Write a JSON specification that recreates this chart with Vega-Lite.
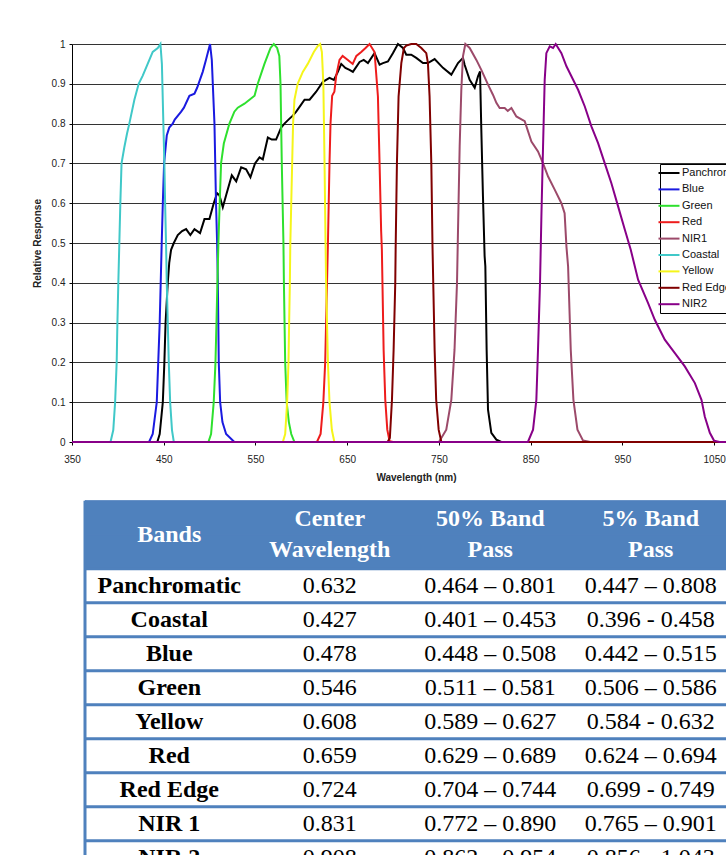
{
"$schema": "https://vega.github.io/schema/vega-lite/v6.json",
"background": "white",
"padding": {"left": 32, "top": 39, "right": 0, "bottom": 0},
"config": {"view": {"stroke": null}, "font": "Liberation Sans"},
"bounds": "flush",
"spacing": 58.7,
"resolve": {"scale": {"color": "independent"}},
"vconcat": [
{
"width": 688,
"height": 398,
"data": {"values": [
{"s":"Panchromatic","w":350,"r":0},{"s":"Panchromatic","w":443,"r":0},{"s":"Panchromatic","w":445.6,"r":0.02},{"s":"Panchromatic","w":449,"r":0.1},{"s":"Panchromatic","w":450.7,"r":0.2},{"s":"Panchromatic","w":452,"r":0.3},{"s":"Panchromatic","w":454.4,"r":0.4},{"s":"Panchromatic","w":456,"r":0.45},{"s":"Panchromatic","w":458,"r":0.483},{"s":"Panchromatic","w":461,"r":0.5},{"s":"Panchromatic","w":465.3,"r":0.52},{"s":"Panchromatic","w":470,"r":0.53},{"s":"Panchromatic","w":474.4,"r":0.535},{"s":"Panchromatic","w":479,"r":0.52},{"s":"Panchromatic","w":483.5,"r":0.535},{"s":"Panchromatic","w":489.6,"r":0.525},{"s":"Panchromatic","w":494.4,"r":0.56},{"s":"Panchromatic","w":499.8,"r":0.56},{"s":"Panchromatic","w":504.5,"r":0.6},{"s":"Panchromatic","w":508.2,"r":0.625},{"s":"Panchromatic","w":510.7,"r":0.62},{"s":"Panchromatic","w":514.4,"r":0.59},{"s":"Panchromatic","w":518,"r":0.62},{"s":"Panchromatic","w":524.2,"r":0.67},{"s":"Panchromatic","w":529,"r":0.655},{"s":"Panchromatic","w":534.4,"r":0.69},{"s":"Panchromatic","w":539.8,"r":0.685},{"s":"Panchromatic","w":544.5,"r":0.665},{"s":"Panchromatic","w":549.5,"r":0.7},{"s":"Panchromatic","w":554.4,"r":0.715},{"s":"Panchromatic","w":558,"r":0.71},{"s":"Panchromatic","w":563.5,"r":0.765},{"s":"Panchromatic","w":567.8,"r":0.76},{"s":"Panchromatic","w":572.5,"r":0.76},{"s":"Panchromatic","w":578,"r":0.79},{"s":"Panchromatic","w":581.6,"r":0.8},{"s":"Panchromatic","w":586,"r":0.81},{"s":"Panchromatic","w":590.7,"r":0.82},{"s":"Panchromatic","w":594.4,"r":0.83},{"s":"Panchromatic","w":599,"r":0.845},{"s":"Panchromatic","w":603.5,"r":0.86},{"s":"Panchromatic","w":609,"r":0.86},{"s":"Panchromatic","w":616.2,"r":0.88},{"s":"Panchromatic","w":623.5,"r":0.905},{"s":"Panchromatic","w":630.7,"r":0.915},{"s":"Panchromatic","w":635.5,"r":0.91},{"s":"Panchromatic","w":639.8,"r":0.93},{"s":"Panchromatic","w":643.5,"r":0.95},{"s":"Panchromatic","w":648,"r":0.94},{"s":"Panchromatic","w":652.5,"r":0.935},{"s":"Panchromatic","w":656.2,"r":0.93},{"s":"Panchromatic","w":663.5,"r":0.955},{"s":"Panchromatic","w":668,"r":0.96},{"s":"Panchromatic","w":672.6,"r":0.952},{"s":"Panchromatic","w":679.8,"r":0.977},{"s":"Panchromatic","w":685.3,"r":0.948},{"s":"Panchromatic","w":689,"r":0.952},{"s":"Panchromatic","w":694.4,"r":0.956},{"s":"Panchromatic","w":699.8,"r":0.977},{"s":"Panchromatic","w":705.3,"r":1.0},{"s":"Panchromatic","w":710.8,"r":0.99},{"s":"Panchromatic","w":714.4,"r":0.973},{"s":"Panchromatic","w":719.8,"r":0.973},{"s":"Panchromatic","w":725.3,"r":0.965},{"s":"Panchromatic","w":732.6,"r":0.952},{"s":"Panchromatic","w":738,"r":0.952},{"s":"Panchromatic","w":745.3,"r":0.962},{"s":"Panchromatic","w":754.4,"r":0.94},{"s":"Panchromatic","w":763.5,"r":0.923},{"s":"Panchromatic","w":770.8,"r":0.952},{"s":"Panchromatic","w":776.2,"r":0.965},{"s":"Panchromatic","w":778,"r":0.948},{"s":"Panchromatic","w":783.5,"r":0.91},{"s":"Panchromatic","w":789,"r":0.89},{"s":"Panchromatic","w":792.6,"r":0.919},{"s":"Panchromatic","w":794.8,"r":0.931},{"s":"Panchromatic","w":796.2,"r":0.785},{"s":"Panchromatic","w":798,"r":0.617},{"s":"Panchromatic","w":799.8,"r":0.467},{"s":"Panchromatic","w":800.6,"r":0.441},{"s":"Panchromatic","w":802,"r":0.232},{"s":"Panchromatic","w":803.5,"r":0.081},{"s":"Panchromatic","w":807.1,"r":0.023},{"s":"Panchromatic","w":812.6,"r":0.006},{"s":"Panchromatic","w":818,"r":0},{"s":"Panchromatic","w":1100,"r":0},
{"s":"Blue","w":350,"r":0},{"s":"Blue","w":434,"r":0},{"s":"Blue","w":438,"r":0.02},{"s":"Blue","w":442.4,"r":0.1},{"s":"Blue","w":444,"r":0.2},{"s":"Blue","w":445.6,"r":0.3},{"s":"Blue","w":446.7,"r":0.4},{"s":"Blue","w":447.8,"r":0.5},{"s":"Blue","w":449,"r":0.6},{"s":"Blue","w":450.4,"r":0.7},{"s":"Blue","w":453.3,"r":0.77},{"s":"Blue","w":456,"r":0.79},{"s":"Blue","w":459.8,"r":0.8},{"s":"Blue","w":462,"r":0.81},{"s":"Blue","w":469,"r":0.83},{"s":"Blue","w":472,"r":0.84},{"s":"Blue","w":478,"r":0.87},{"s":"Blue","w":483.5,"r":0.875},{"s":"Blue","w":486.4,"r":0.89},{"s":"Blue","w":492.5,"r":0.93},{"s":"Blue","w":496,"r":0.96},{"s":"Blue","w":500.5,"r":1.0},{"s":"Blue","w":502.4,"r":0.96},{"s":"Blue","w":505.3,"r":0.8},{"s":"Blue","w":507,"r":0.6},{"s":"Blue","w":508.2,"r":0.5},{"s":"Blue","w":509,"r":0.4},{"s":"Blue","w":510,"r":0.2},{"s":"Blue","w":511.5,"r":0.1},{"s":"Blue","w":514,"r":0.05},{"s":"Blue","w":518,"r":0.02},{"s":"Blue","w":527,"r":0},{"s":"Blue","w":1100,"r":0},
{"s":"Green","w":350,"r":0},{"s":"Green","w":498.7,"r":0},{"s":"Green","w":501.6,"r":0.02},{"s":"Green","w":504.5,"r":0.1},{"s":"Green","w":506.4,"r":0.2},{"s":"Green","w":507.5,"r":0.3},{"s":"Green","w":508.5,"r":0.4},{"s":"Green","w":509.6,"r":0.5},{"s":"Green","w":511,"r":0.6},{"s":"Green","w":512.5,"r":0.7},{"s":"Green","w":515.5,"r":0.75},{"s":"Green","w":521.6,"r":0.8},{"s":"Green","w":527,"r":0.83},{"s":"Green","w":530.7,"r":0.84},{"s":"Green","w":538,"r":0.85},{"s":"Green","w":543.5,"r":0.86},{"s":"Green","w":549,"r":0.87},{"s":"Green","w":552.5,"r":0.9},{"s":"Green","w":559.8,"r":0.95},{"s":"Green","w":566.4,"r":0.99},{"s":"Green","w":570,"r":1.0},{"s":"Green","w":573.6,"r":0.99},{"s":"Green","w":576,"r":0.97},{"s":"Green","w":577.3,"r":0.9},{"s":"Green","w":578.7,"r":0.7},{"s":"Green","w":580.5,"r":0.5},{"s":"Green","w":581,"r":0.4},{"s":"Green","w":582.4,"r":0.2},{"s":"Green","w":584,"r":0.1},{"s":"Green","w":586.4,"r":0.05},{"s":"Green","w":589,"r":0.02},{"s":"Green","w":592.5,"r":0},{"s":"Green","w":1100,"r":0},
{"s":"Red","w":350,"r":0},{"s":"Red","w":617,"r":0},{"s":"Red","w":621,"r":0.02},{"s":"Red","w":624,"r":0.1},{"s":"Red","w":626,"r":0.2},{"s":"Red","w":627,"r":0.3},{"s":"Red","w":628,"r":0.4},{"s":"Red","w":629,"r":0.5},{"s":"Red","w":630.7,"r":0.7},{"s":"Red","w":631.8,"r":0.8},{"s":"Red","w":633.6,"r":0.87},{"s":"Red","w":636,"r":0.88},{"s":"Red","w":638,"r":0.92},{"s":"Red","w":641.6,"r":0.96},{"s":"Red","w":645,"r":0.97},{"s":"Red","w":650.7,"r":0.96},{"s":"Red","w":656,"r":0.95},{"s":"Red","w":660,"r":0.97},{"s":"Red","w":665.3,"r":0.98},{"s":"Red","w":670,"r":0.99},{"s":"Red","w":674.4,"r":1.0},{"s":"Red","w":679.8,"r":0.98},{"s":"Red","w":683.5,"r":0.868},{"s":"Red","w":685.3,"r":0.7},{"s":"Red","w":687,"r":0.53},{"s":"Red","w":687.8,"r":0.483},{"s":"Red","w":689.7,"r":0.232},{"s":"Red","w":691.5,"r":0.106},{"s":"Red","w":693.7,"r":0.031},{"s":"Red","w":696.2,"r":0.002},{"s":"Red","w":700,"r":0},{"s":"Red","w":1100,"r":0},
{"s":"NIR1","w":350,"r":0},{"s":"NIR1","w":750,"r":0},{"s":"NIR1","w":758,"r":0.031},{"s":"NIR1","w":763.5,"r":0.106},{"s":"NIR1","w":767,"r":0.232},{"s":"NIR1","w":769.7,"r":0.4},{"s":"NIR1","w":770.8,"r":0.533},{"s":"NIR1","w":772.6,"r":0.743},{"s":"NIR1","w":774.4,"r":0.885},{"s":"NIR1","w":776.2,"r":0.969},{"s":"NIR1","w":778.8,"r":1.0},{"s":"NIR1","w":783.5,"r":0.99},{"s":"NIR1","w":790.8,"r":0.96},{"s":"NIR1","w":796.2,"r":0.935},{"s":"NIR1","w":803.5,"r":0.898},{"s":"NIR1","w":809,"r":0.872},{"s":"NIR1","w":812.6,"r":0.852},{"s":"NIR1","w":816.2,"r":0.839},{"s":"NIR1","w":821.7,"r":0.839},{"s":"NIR1","w":825,"r":0.832},{"s":"NIR1","w":829,"r":0.839},{"s":"NIR1","w":834.4,"r":0.818},{"s":"NIR1","w":839,"r":0.812},{"s":"NIR1","w":843.5,"r":0.806},{"s":"NIR1","w":850.8,"r":0.755},{"s":"NIR1","w":858,"r":0.73},{"s":"NIR1","w":863.5,"r":0.7},{"s":"NIR1","w":869,"r":0.667},{"s":"NIR1","w":876.2,"r":0.634},{"s":"NIR1","w":883.5,"r":0.6},{"s":"NIR1","w":887,"r":0.575},{"s":"NIR1","w":889,"r":0.491},{"s":"NIR1","w":890.8,"r":0.441},{"s":"NIR1","w":893.7,"r":0.232},{"s":"NIR1","w":896.6,"r":0.106},{"s":"NIR1","w":901,"r":0.031},{"s":"NIR1","w":907,"r":0.004},{"s":"NIR1","w":915,"r":0},{"s":"NIR1","w":1100,"r":0},
{"s":"Coastal","w":350,"r":0},{"s":"Coastal","w":392,"r":0},{"s":"Coastal","w":395,"r":0.03},{"s":"Coastal","w":397,"r":0.1},{"s":"Coastal","w":398.7,"r":0.2},{"s":"Coastal","w":399.5,"r":0.3},{"s":"Coastal","w":400.5,"r":0.4},{"s":"Coastal","w":401.6,"r":0.5},{"s":"Coastal","w":402.7,"r":0.6},{"s":"Coastal","w":404,"r":0.7},{"s":"Coastal","w":407,"r":0.74},{"s":"Coastal","w":410,"r":0.775},{"s":"Coastal","w":412.5,"r":0.8},{"s":"Coastal","w":418,"r":0.86},{"s":"Coastal","w":422.7,"r":0.9},{"s":"Coastal","w":427,"r":0.92},{"s":"Coastal","w":432.5,"r":0.95},{"s":"Coastal","w":438,"r":0.98},{"s":"Coastal","w":443.5,"r":0.99},{"s":"Coastal","w":446.4,"r":1.0},{"s":"Coastal","w":448,"r":0.95},{"s":"Coastal","w":449.6,"r":0.8},{"s":"Coastal","w":450.7,"r":0.7},{"s":"Coastal","w":451.5,"r":0.6},{"s":"Coastal","w":452.5,"r":0.5},{"s":"Coastal","w":453.3,"r":0.4},{"s":"Coastal","w":454.4,"r":0.3},{"s":"Coastal","w":455.5,"r":0.2},{"s":"Coastal","w":457,"r":0.1},{"s":"Coastal","w":459,"r":0.03},{"s":"Coastal","w":461,"r":0},{"s":"Coastal","w":1100,"r":0},
{"s":"Yellow","w":350,"r":0},{"s":"Yellow","w":579.8,"r":0},{"s":"Yellow","w":582.4,"r":0.02},{"s":"Yellow","w":584.5,"r":0.1},{"s":"Yellow","w":586,"r":0.2},{"s":"Yellow","w":586.7,"r":0.3},{"s":"Yellow","w":587.5,"r":0.4},{"s":"Yellow","w":588,"r":0.5},{"s":"Yellow","w":589,"r":0.6},{"s":"Yellow","w":590,"r":0.7},{"s":"Yellow","w":591,"r":0.8},{"s":"Yellow","w":592.5,"r":0.86},{"s":"Yellow","w":596,"r":0.9},{"s":"Yellow","w":601.6,"r":0.93},{"s":"Yellow","w":607,"r":0.95},{"s":"Yellow","w":613.6,"r":0.98},{"s":"Yellow","w":618,"r":0.995},{"s":"Yellow","w":620.5,"r":1.0},{"s":"Yellow","w":622.4,"r":0.98},{"s":"Yellow","w":624,"r":0.9},{"s":"Yellow","w":625.3,"r":0.7},{"s":"Yellow","w":626.4,"r":0.5},{"s":"Yellow","w":627,"r":0.4},{"s":"Yellow","w":629,"r":0.2},{"s":"Yellow","w":630.7,"r":0.1},{"s":"Yellow","w":633.3,"r":0.03},{"s":"Yellow","w":636,"r":0},{"s":"Yellow","w":1100,"r":0},
{"s":"Red Edge","w":350,"r":0},{"s":"Red Edge","w":694,"r":0},{"s":"Red Edge","w":696.5,"r":0.01},{"s":"Red Edge","w":698.8,"r":0.106},{"s":"Red Edge","w":700.6,"r":0.232},{"s":"Red Edge","w":702.4,"r":0.4},{"s":"Red Edge","w":702.8,"r":0.483},{"s":"Red Edge","w":704.2,"r":0.7},{"s":"Red Edge","w":706,"r":0.868},{"s":"Red Edge","w":709,"r":0.952},{"s":"Red Edge","w":711.8,"r":0.99},{"s":"Red Edge","w":714.4,"r":0.996},{"s":"Red Edge","w":719.8,"r":1.0},{"s":"Red Edge","w":725.3,"r":1.0},{"s":"Red Edge","w":730.8,"r":0.99},{"s":"Red Edge","w":736.2,"r":0.977},{"s":"Red Edge","w":738,"r":0.952},{"s":"Red Edge","w":739.8,"r":0.868},{"s":"Red Edge","w":741.7,"r":0.7},{"s":"Red Edge","w":743,"r":0.49},{"s":"Red Edge","w":743.8,"r":0.4},{"s":"Red Edge","w":745.3,"r":0.232},{"s":"Red Edge","w":747,"r":0.106},{"s":"Red Edge","w":749.7,"r":0.031},{"s":"Red Edge","w":752.6,"r":0},{"s":"Red Edge","w":1100,"r":0},
{"s":"NIR2","w":350,"r":0},{"s":"NIR2","w":847,"r":0},{"s":"NIR2","w":852.6,"r":0.031},{"s":"NIR2","w":856.2,"r":0.106},{"s":"NIR2","w":858,"r":0.232},{"s":"NIR2","w":860.2,"r":0.4},{"s":"NIR2","w":861.7,"r":0.567},{"s":"NIR2","w":863.5,"r":0.743},{"s":"NIR2","w":865.3,"r":0.91},{"s":"NIR2","w":867.1,"r":0.977},{"s":"NIR2","w":870.8,"r":0.994},{"s":"NIR2","w":874.4,"r":0.99},{"s":"NIR2","w":877.3,"r":1.0},{"s":"NIR2","w":883.5,"r":0.977},{"s":"NIR2","w":889,"r":0.944},{"s":"NIR2","w":894.4,"r":0.919},{"s":"NIR2","w":901.7,"r":0.885},{"s":"NIR2","w":909,"r":0.843},{"s":"NIR2","w":916.2,"r":0.793},{"s":"NIR2","w":923.5,"r":0.751},{"s":"NIR2","w":930.8,"r":0.7},{"s":"NIR2","w":938,"r":0.65},{"s":"NIR2","w":945.3,"r":0.592},{"s":"NIR2","w":952.6,"r":0.534},{"s":"NIR2","w":959.1,"r":0.483},{"s":"NIR2","w":967.1,"r":0.408},{"s":"NIR2","w":978,"r":0.349},{"s":"NIR2","w":985.3,"r":0.307},{"s":"NIR2","w":996.2,"r":0.257},{"s":"NIR2","w":1007,"r":0.224},{"s":"NIR2","w":1018,"r":0.19},{"s":"NIR2","w":1029,"r":0.148},{"s":"NIR2","w":1036.2,"r":0.106},{"s":"NIR2","w":1039.8,"r":0.064},{"s":"NIR2","w":1045.3,"r":0.023},{"s":"NIR2","w":1050,"r":0.003},{"s":"NIR2","w":1056,"r":0},{"s":"NIR2","w":1100,"r":0}
]},
"mark": {"type": "line", "strokeWidth": 2},
"encoding": {
"x": {"field": "w", "type": "quantitative",
"scale": {"domain": [350, 1100], "nice": false, "zero": false},
"axis": {"values": [350, 450, 550, 650, 750, 850, 950, 1050], "format": "d", "grid": false, "tickSize": 3, "tickColor": "#000", "domainColor": "#000", "labelFontSize": 10, "labelColor": "#222", "labelPadding": 9, "labelFlush": false, "title": "Wavelength (nm)", "titleFontSize": 10, "titleFontWeight": "bold", "titleColor": "#222", "titlePadding": 8}},
"y": {"field": "r", "type": "quantitative",
"scale": {"domain": [0, 1], "nice": false},
"axis": {"values": [0, 0.1, 0.2, 0.3, 0.4, 0.5, 0.6, 0.7, 0.8, 0.9, 1], "format": ".1~f", "grid": true, "gridColor": "#333", "gridOpacity": 1, "tickSize": 3, "tickColor": "#000", "domainColor": "#000", "labelFontSize": 10, "labelColor": "#222", "labelPadding": 4, "labelFlush": false, "title": "Relative Response", "titleFontSize": 10, "titleFontWeight": "bold", "titleColor": "#222", "titlePadding": 9}},
"color": {"field": "s", "type": "nominal",
"scale": {"domain": ["Panchromatic", "Blue", "Green", "Red", "NIR1", "Coastal", "Yellow", "Red Edge", "NIR2"],
"range": ["#000000", "#1a1ae0", "#2ee02e", "#ee1c1c", "#9c4a6a", "#40c8c8", "#f5f51a", "#800000", "#880088"]},
"legend": {"orient": "none", "legendX": 588, "legendY": 120, "title": null, "strokeColor": "#000", "fillColor": "white", "padding": 3, "symbolType": "M-2.1,0H2.1", "symbolSize": 100, "symbolStrokeWidth": 2, "labelFontSize": 11, "labelColor": "#111", "labelOffset": 7, "rowPadding": 5.4, "labelLimit": 200}}
}
},
{
"width": 688,
"height": 374,
"data": {"values": [
{"Bands": "Panchromatic", "Center Wavelength": "0.632", "50% Band Pass": "0.464 – 0.801", "5% Band Pass": "0.447 – 0.808"},
{"Bands": "Coastal", "Center Wavelength": "0.427", "50% Band Pass": "0.401 – 0.453", "5% Band Pass": "0.396 - 0.458"},
{"Bands": "Blue", "Center Wavelength": "0.478", "50% Band Pass": "0.448 – 0.508", "5% Band Pass": "0.442 – 0.515"},
{"Bands": "Green", "Center Wavelength": "0.546", "50% Band Pass": "0.511 – 0.581", "5% Band Pass": "0.506 – 0.586"},
{"Bands": "Yellow", "Center Wavelength": "0.608", "50% Band Pass": "0.589 – 0.627", "5% Band Pass": "0.584 - 0.632"},
{"Bands": "Red", "Center Wavelength": "0.659", "50% Band Pass": "0.629 – 0.689", "5% Band Pass": "0.624 – 0.694"},
{"Bands": "Red Edge", "Center Wavelength": "0.724", "50% Band Pass": "0.704 – 0.744", "5% Band Pass": "0.699 - 0.749"},
{"Bands": "NIR 1", "Center Wavelength": "0.831", "50% Band Pass": "0.772 – 0.890", "5% Band Pass": "0.765 – 0.901"},
{"Bands": "NIR 2", "Center Wavelength": "0.908", "50% Band Pass": "0.862 – 0.954", "5% Band Pass": "0.856 - 1.043"}
]},
"layer": [
{
"data": {"values": [{"r": "hdr1"}, {"r": "hdr2"}]},
"mark": {"type": "rect", "color": "#4F81BD", "stroke": "#4F81BD", "strokeWidth": 1, "xOffset": -4},
"encoding": {
"x": {"datum": "Bands", "type": "nominal", "bandPosition": 0, "axis": null,
"scale": {"type": "band", "domain": ["Bands", "Center Wavelength", "50% Band Pass", "5% Band Pass"], "range": [17, 659], "paddingInner": 0, "paddingOuter": 0}},
"x2": {"value": "width"},
"y": {"field": "r", "type": "nominal", "axis": null,
"scale": {"type": "band", "domain": ["hdr1", "hdr2", "Panchromatic", "Coastal", "Blue", "Green", "Yellow", "Red", "Red Edge", "NIR 1", "NIR 2"], "paddingInner": 0, "paddingOuter": 0}}
}
},
{
"mark": {"type": "rule", "color": "#4F81BD", "strokeWidth": 3, "xOffset": -4},
"encoding": {
"x": {"datum": "Bands", "type": "nominal", "bandPosition": 0, "axis": null},
"x2": {"value": "width"},
"y": {"field": "Bands", "type": "nominal", "bandPosition": 0, "axis": null}
}
},
{
"data": {"values": [{"edge": "left"}]},
"mark": {"type": "rule", "color": "#4F81BD", "strokeWidth": 3, "xOffset": -4},
"encoding": {
"x": {"datum": "Bands", "type": "nominal", "bandPosition": 0, "axis": null}
}
},
{
"mark": {"type": "text", "font": "Liberation Serif", "fontSize": 24, "fontWeight": "bold", "color": "#000"},
"encoding": {
"x": {"datum": "Bands", "type": "nominal", "axis": null},
"y": {"field": "Bands", "type": "nominal", "axis": null},
"text": {"field": "Bands"}
}
},
{
"transform": [{"fold": ["Center Wavelength", "50% Band Pass", "5% Band Pass"], "as": ["col", "val"]}],
"mark": {"type": "text", "font": "Liberation Serif", "fontSize": 24, "color": "#000"},
"encoding": {
"x": {"field": "col", "type": "nominal", "axis": null},
"y": {"field": "Bands", "type": "nominal", "axis": null},
"text": {"field": "val"}
}
},
{
"data": {"values": [{"col": "Bands", "label": "Bands"}]},
"mark": {"type": "text", "font": "Liberation Serif", "fontSize": 24, "fontWeight": "bold", "color": "white", "baseline": "middle"},
"encoding": {
"x": {"field": "col", "type": "nominal", "axis": null},
"y": {"datum": "hdr2", "type": "nominal", "bandPosition": 0, "axis": null},
"text": {"field": "label"}
}
},
{
"data": {"values": [
{"col": "Center Wavelength", "label": "Center\nWavelength"},
{"col": "50% Band Pass", "label": "50% Band\nPass"},
{"col": "5% Band Pass", "label": "5% Band\nPass"}
]},
"mark": {"type": "text", "font": "Liberation Serif", "fontSize": 24, "fontWeight": "bold", "color": "white", "lineBreak": "\n", "lineHeight": 31, "baseline": "middle", "dy": -15.5},
"encoding": {
"x": {"field": "col", "type": "nominal", "axis": null},
"y": {"datum": "hdr2", "type": "nominal", "bandPosition": 0, "axis": null},
"text": {"field": "label"}
}
}
]
}
]
}
